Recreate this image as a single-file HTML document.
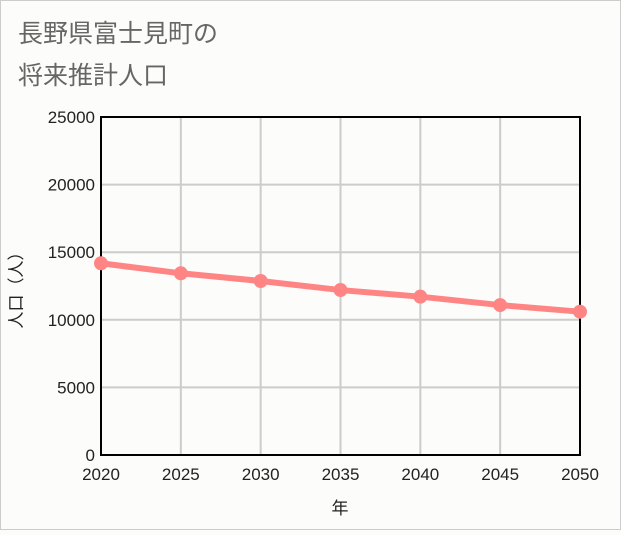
<!DOCTYPE html>
<html><head><meta charset="utf-8"><style>
body{margin:0;background:#fcfdfa;}
svg text{font-family:"Liberation Sans","Noto Sans CJK JP",sans-serif;}
</style></head><body>
<svg width="621" height="530" viewBox="0 0 621 530">
<rect x="0.5" y="0.5" width="620" height="529" fill="#fcfdfa" stroke="#ccc"/>
<text x="18" y="42" font-size="25" fill="#666">長野県富士見町の</text>
<text x="18" y="84" font-size="25" fill="#666">将来推計人口</text>
<g id="grid"></g>
<g id="axes"></g>
<g id="series"></g>
<text x="22" y="286" font-size="17" fill="#222" text-anchor="middle" transform="rotate(-90 22 286)">人口（人）</text>
<text x="340" y="514" font-size="17" fill="#222" text-anchor="middle">年</text>
</svg>
<script>
const years=[2020,2025,2030,2035,2040,2045,2050];
const population=[14180,13440,12870,12200,11710,11090,10600];
const yTicks=[0,5000,10000,15000,20000,25000];
const L=101,R=580,T=117,B=455;
const xs=v=>L+(v-2020)/30*(R-L);
const ys=v=>B-v/25000*(B-T);
const ns="http://www.w3.org/2000/svg";
function mk(t,a,p){const e=document.createElementNS(ns,t);for(const k in a)e.setAttribute(k,a[k]);p.appendChild(e);return e;}
const g=document.getElementById('grid'),ax=document.getElementById('axes'),s=document.getElementById('series');
yTicks.forEach(v=>{const l=mk('line',{x1:L,x2:R,y1:ys(v),y2:ys(v),stroke:'#ccc','stroke-width':2},g);


const t=mk('text',{x:L-6,y:ys(v)+6,'font-size':17,'text-anchor':'end',fill:'#222'},ax);t.textContent=v;

});
years.forEach(v=>{const l=mk('line',{x1:xs(v),x2:xs(v),y1:T,y2:B,stroke:'#ccc','stroke-width':2},g);


const t=mk('text',{x:xs(v),y:B+25,'font-size':17,'text-anchor':'middle',fill:'#222'},ax);t.textContent=v;

});
const fr=mk('rect',{x:L,y:T,width:R-L,height:B-T,fill:'none',stroke:'#000','stroke-width':2},ax);


const pl=mk('polyline',{points:years.map((y,i)=>xs(y)+','+ys(population[i])).join(' '),fill:'none',stroke:'#ff8585','stroke-width':6},s);


years.forEach((y,i)=>{const c=mk('circle',{cx:xs(y),cy:ys(population[i]),r:7,fill:'#ff8585'},s);

});
</script>
</body></html>
